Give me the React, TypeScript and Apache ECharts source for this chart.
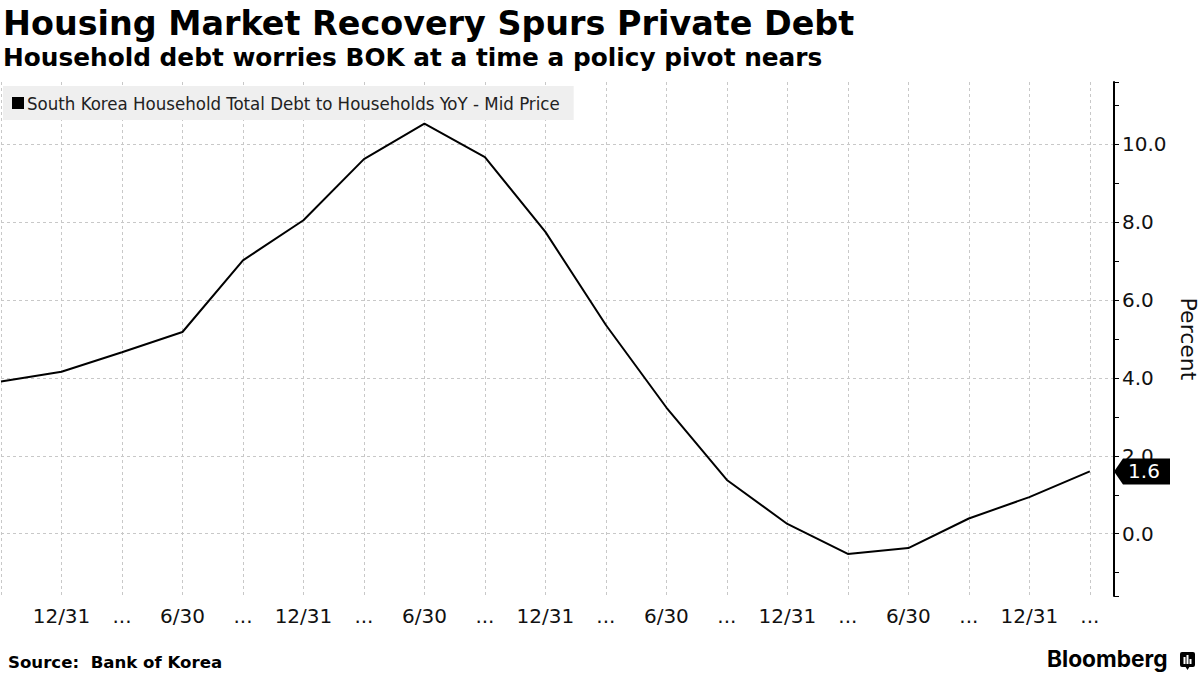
import React, { useEffect, useRef } from "react";
import * as echarts from "echarts";

// Quarter-end dates of the observations
const quarters = [
  "2019-09-30", "2019-12-31", "2020-03-31", "2020-06-30", "2020-09-30",
  "2020-12-31", "2021-03-31", "2021-06-30", "2021-09-30", "2021-12-31",
  "2022-03-31", "2022-06-30", "2022-09-30", "2022-12-31", "2023-03-31",
  "2023-06-30", "2023-09-30", "2023-12-31", "2024-03-31",
];
// Tick labels shown under each quarter
const tickLabels = [
  "", "12/31", "...", "6/30", "...", "12/31", "...", "6/30", "...", "12/31",
  "...", "6/30", "...", "12/31", "...", "6/30", "...", "12/31", "...",
];
// South Korea household total debt to households YoY, percent
const debtYoY = [
  3.91, 4.16, 4.66, 5.18, 7.02, 8.05, 9.62, 10.53, 9.67, 7.75,
  5.36, 3.24, 1.38, 0.25, -0.52, -0.37, 0.39, 0.94, 1.6,
];
const seriesName = "South Korea Household Total Debt to Households YoY - Mid Price";
const yMin = -1.6;
const yMax = 11.6;
const xMax = 18.4;

const FONT = "DejaVu Sans";
const COND = "DejaVu Sans Condensed";

export default function App() {
  const ref = useRef<HTMLDivElement>(null);

  useEffect(() => {
    if (!ref.current) return;
    const chart = echarts.init(ref.current, undefined, { renderer: "svg" });
    const last = debtYoY[debtYoY.length - 1];

    chart.setOption({
      animation: false,
      backgroundColor: "#ffffff",
      grid: { left: 1, right: 86, top: 82, bottom: 79, containLabel: false, outerBoundsMode: "none" },
      legend: {
        show: true,
        left: 3,
        top: 86,
        backgroundColor: "#efefef",
        padding: [7, 14, 7, 9],
        icon: "rect",
        itemWidth: 12,
        itemHeight: 12,
        itemGap: 4,
        textStyle: { fontFamily: COND, fontSize: 18.5, color: "#222", lineHeight: 20, padding: [0, 0, 0, -2] },
        data: [seriesName],
      },
      xAxis: {
        type: "value",
        min: 0,
        max: xMax,
        interval: 1,
        axisLine: { show: false, onZero: false },
        axisTick: { show: false },
        axisLabel: {
          show: true,
          margin: 10,
          fontFamily: FONT,
          fontSize: 20,
          color: "#111",
          showMaxLabel: false,
          formatter: (v: number) => (Number.isInteger(v) && tickLabels[v] !== undefined ? tickLabels[v] : ""),
        },
        splitLine: {
          show: true,
          showMaxLine: false,
          lineStyle: { color: "#c8c8c8", type: [3, 3], width: 1 },
        },
      },
      yAxis: {
        type: "value",
        position: "right",
        min: yMin,
        max: yMax,
        minInterval: 2,
        maxInterval: 2,
        splitNumber: 6,
        name: "Percent",
        nameLocation: "middle",
        nameRotate: -90,
        nameGap: 60,
        nameTextStyle: { fontFamily: FONT, fontSize: 22, color: "#111" },
        axisLine: { show: true, onZero: false, lineStyle: { color: "#000", width: 2 } },
        axisTick: { show: true, inside: false, length: 5, lineStyle: { color: "#000", width: 1 } },
        minorTick: { show: true, splitNumber: 2, length: 5, lineStyle: { color: "#000", width: 1 } },
        axisLabel: {
          show: true,
          margin: 8,
          fontFamily: FONT,
          fontSize: 20,
          color: "#111",
          showMinLabel: false,
          showMaxLabel: false,
          formatter: (v: number) => v.toFixed(1),
        },
        splitLine: {
          show: true,
          showMinLine: false,
          showMaxLine: false,
          lineStyle: { color: "#c8c8c8", type: [3, 3], width: 1 },
        },
      },
      series: [
        {
          name: seriesName,
          type: "line",
          data: debtYoY.map((v, i) => [i, v]),
          showSymbol: false,
          symbol: "none",
          color: "#000",
          lineStyle: { color: "#000", width: 2 },
          clip: false,
          markPoint: {
            silent: true,
            symbol: "path://M0,13 L9,0 L56,0 L56,26 L9,26 Z",
            symbolSize: [56, 26],
            symbolOffset: [28, 0],
            itemStyle: { color: "#000" },
            label: {
              show: true,
              position: "inside",
              offset: [2, 0],
              color: "#fff",
              fontFamily: FONT,
              fontSize: 20,
              formatter: (p: any) => Number(p.value).toFixed(1),
            },
            data: [{ coord: [xMax, last], value: last }],
          },
        },
      ],
      graphic: [
        {
          type: "text",
          left: 3,
          top: 7,
          style: {
            text: "Housing Market Recovery Spurs Private Debt",
            fontFamily: FONT,
            fontWeight: "bold",
            fontSize: 33.4,
            fill: "#000",
          },
        },
        {
          type: "text",
          left: 3,
          top: 45,
          style: {
            text: "Household debt worries BOK at a time a policy pivot nears",
            fontFamily: FONT,
            fontWeight: "bold",
            fontSize: 24.8,
            fill: "#000",
          },
        },
        {
          type: "text",
          left: 8,
          top: 654,
          style: {
            text: "Source:  Bank of Korea",
            fontFamily: FONT,
            fontWeight: "bold",
            fontSize: 16.6,
            fill: "#000",
          },
        },
        {
          type: "text",
          left: 1047,
          top: 647,
          style: {
            text: "Bloomberg",
            fontFamily: "Inter",
            fontWeight: "bold",
            fontSize: 22.7,
            fill: "#000",
          },
        },
        {
          type: "group",
          left: 1180,
          top: 652,
          children: [
            { type: "rect", shape: { x: 0, y: 0, width: 15, height: 15, r: 2 }, style: { fill: "#000" } },
            { type: "polygon", shape: { points: [[5, 14], [10, 14], [7.5, 18]] }, style: { fill: "#000" } },
            { type: "rect", shape: { x: 3.5, y: 5, width: 2, height: 7 }, style: { fill: "#fff" } },
            { type: "rect", shape: { x: 6.5, y: 3, width: 2, height: 9 }, style: { fill: "#fff" } },
            { type: "rect", shape: { x: 9.5, y: 7, width: 2, height: 5 }, style: { fill: "#fff" } },
          ],
        },
      ],
    });

    return () => chart.dispose();
  }, []);

  return (
    <div
      ref={ref}
      style={{ position: "absolute", left: 0, top: 0, width: 1200, height: 675, background: "#fff" }}
    />
  );
}
